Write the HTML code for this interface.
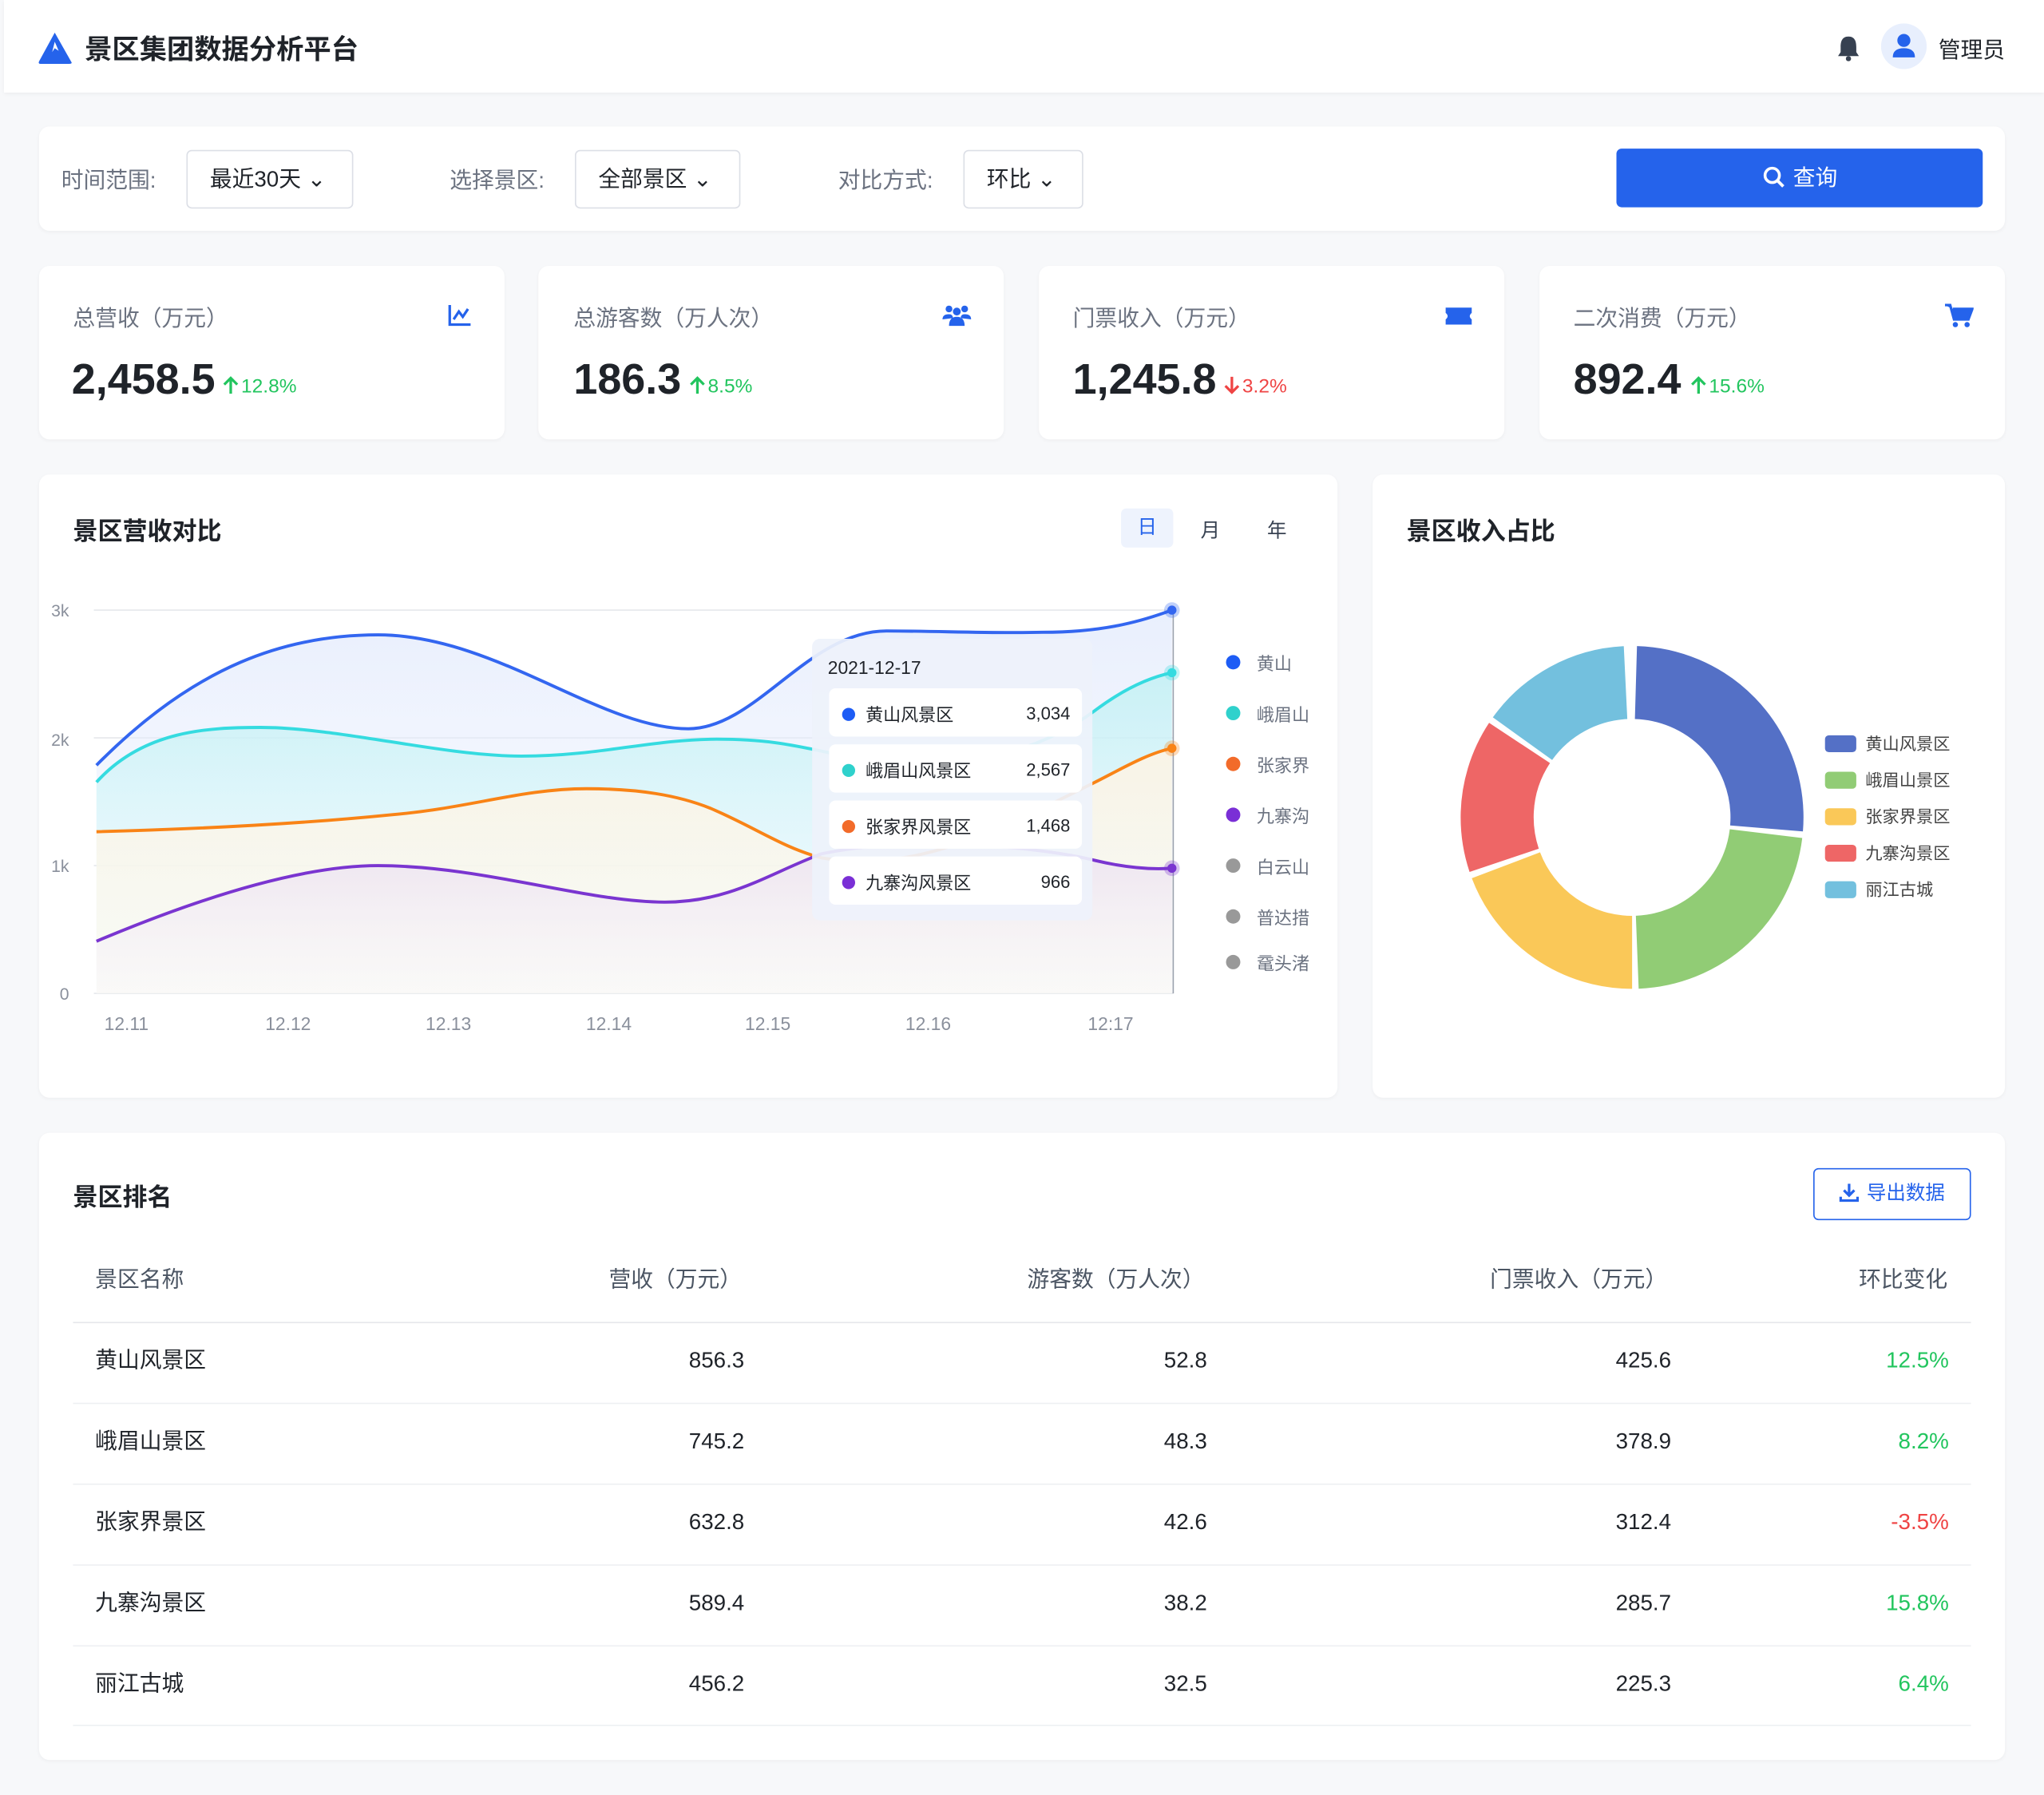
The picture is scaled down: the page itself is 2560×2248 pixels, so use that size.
<!DOCTYPE html>
<html><head><meta charset="utf-8"><style>
*{margin:0;padding:0;box-sizing:border-box}
html,body{width:2560px;height:2247px;overflow:hidden;background:#f7f8fa;font-family:"Liberation Sans","Noto Sans CJK SC",sans-serif;color:#1f2329}
#w{position:absolute;left:0;top:0;width:1568px;height:1377px;transform:scale(1.632653);transform-origin:0 0}
.a{position:absolute;white-space:nowrap}
.card{position:absolute;background:#fff;border-radius:8px;box-shadow:0 1px 3px rgba(0,0,0,.04)}
.dd{position:absolute;border:1px solid #dcdfe6;border-radius:4px;height:45px;top:115px;font-size:17px;line-height:43px;padding-left:17px;color:#1f2329}
.lab{position:absolute;top:124px;font-size:17px;color:#6b7280}
.kt{font-size:17px;color:#6b7280;top:230px}
.kv{font-size:33px;font-weight:bold;top:272px}
.kc{font-size:15px;top:288px}
.kc svg{vertical-align:-2px;margin-right:2px}
.g{color:#22c55e}.r{color:#ef4444}
.h2{font-size:19px;font-weight:bold}
.tr{font-size:17px}
.row{position:relative;height:62px}
.row span{line-height:20px;top:0}
</style></head><body><div id="w">
<div class="a" style="left:3px;top:0;width:1565px;height:71px;background:#fff;box-shadow:0 1px 3px rgba(0,0,0,.05)"></div>
<svg class="a" style="left:28px;top:23px" width="28" height="28" viewBox="0 0 28 28"><path d="M14 2 L27 25 Q27 26 25 26 L3 26 Q1 26 2 24 Z" fill="#2563eb"/><path d="M14 9 L17 16 L14 14 L12 17 Z" fill="#fff"/></svg>
<div class="a" style="left:65px;top:22px;font-size:21px;font-weight:bold">景区集团数据分析平台</div>
<svg class="a" style="left:1409px;top:27px" width="18" height="20" viewBox="0 0 18 20"><path d="M9 1 C4 1 3 5 3 9 L3 13 L1 16 L17 16 L15 13 L15 9 C15 5 14 1 9 1Z" fill="#374151"/><circle cx="9" cy="18" r="2" fill="#374151"/></svg>
<div class="a" style="left:1443px;top:18px;width:35px;height:35px;border-radius:50%;background:#e8effd"></div>
<svg class="a" style="left:1451px;top:25px" width="19" height="20" viewBox="0 0 19 20"><circle cx="9.5" cy="6" r="5" fill="#2563eb"/><path d="M1 19 Q1 12 9.5 12 Q18 12 18 19Z" fill="#2563eb"/></svg>
<div class="a" style="left:1487px;top:24px;font-size:17px">管理员</div>

<div class="card" style="left:30px;top:97px;width:1508px;height:80px"></div>
<div class="lab" style="left:47px">时间范围:</div>
<div class="dd" style="left:143px;width:128px">最近30天 ⌄</div>
<div class="lab" style="left:345px">选择景区:</div>
<div class="dd" style="left:441px;width:127px">全部景区 ⌄</div>
<div class="lab" style="left:643px">对比方式:</div>
<div class="dd" style="left:739px;width:92px">环比 ⌄</div>
<div class="a" style="left:1240px;top:114px;width:281px;height:45px;background:#2563eb;border-radius:4px;color:#fff;font-size:17px;line-height:45px;text-align:center">
<svg width="18" height="18" viewBox="0 0 18 18" style="vertical-align:-3px;margin-right:6px"><circle cx="7.5" cy="7.5" r="5.5" stroke="#fff" stroke-width="2.2" fill="none"/><path d="M11.5 11.5 L16 16" stroke="#fff" stroke-width="2.4"/></svg>查询</div>

<div class="card" style="left:30px;top:204px;width:357px;height:133px"></div>
<div class="card" style="left:413px;top:204px;width:357px;height:133px"></div>
<div class="card" style="left:797px;top:204px;width:357px;height:133px"></div>
<div class="card" style="left:1181px;top:204px;width:357px;height:133px"></div>
<div class="a kt" style="left:56px">总营收（万元）</div>
<div class="a kt" style="left:440px">总游客数（万人次）</div>
<div class="a kt" style="left:823px">门票收入（万元）</div>
<div class="a kt" style="left:1207px">二次消费（万元）</div>
<div class="a kv" style="left:55px">2,458.5</div><div class="a kc g" style="left:171px"><svg width="12" height="15"><path d="M6 14 V2 M1 7 L6 2 L11 7" stroke="#22c55e" stroke-width="2" fill="none"/></svg>12.8%</div>
<div class="a kv" style="left:440px">186.3</div><div class="a kc g" style="left:529px"><svg width="12" height="15"><path d="M6 14 V2 M1 7 L6 2 L11 7" stroke="#22c55e" stroke-width="2" fill="none"/></svg>8.5%</div>
<div class="a kv" style="left:823px">1,245.8</div><div class="a kc r" style="left:939px"><svg width="12" height="15"><path d="M6 1 V13 M1 8 L6 13 L11 8" stroke="#ef4444" stroke-width="2" fill="none"/></svg>3.2%</div>
<div class="a kv" style="left:1207px">892.4</div><div class="a kc g" style="left:1297px"><svg width="12" height="15"><path d="M6 14 V2 M1 7 L6 2 L11 7" stroke="#22c55e" stroke-width="2" fill="none"/></svg>15.6%</div>
<svg class="a" style="left:343px;top:233px" width="19" height="18"><path d="M2 1 V16 H18" stroke="#2563eb" stroke-width="2" fill="none"/><path d="M5 12 L9 6 L12 10 L16 4" stroke="#2563eb" stroke-width="2" fill="none"/></svg>
<svg class="a" style="left:723px;top:233px" width="22" height="18"><circle cx="5" cy="4" r="2.6" fill="#2563eb"/><circle cx="17" cy="4" r="2.6" fill="#2563eb"/><circle cx="11" cy="6" r="3" fill="#2563eb"/><path d="M0 12 Q0 8 5 8 Q8 8 8 11Z M22 12 Q22 8 17 8 Q14 8 14 11Z M5 17 Q5 10 11 10 Q17 10 17 17Z" fill="#2563eb"/></svg>
<svg class="a" style="left:1108px;top:235px" width="22" height="15"><path d="M1 1 H21 V5 Q18 7.5 21 10 V14 H1 V10 Q4 7.5 1 5Z" fill="#2563eb"/></svg>
<svg class="a" style="left:1492px;top:233px" width="22" height="19"><path d="M0 1 H4 L7 12 H18 L21 4 H6" stroke="#2563eb" stroke-width="2" fill="#2563eb"/><circle cx="8" cy="16" r="2" fill="#2563eb"/><circle cx="17" cy="16" r="2" fill="#2563eb"/></svg>

<div class="card" style="left:30px;top:364px;width:996px;height:478px"></div>
<div class="a h2" style="left:56px;top:393px">景区营收对比</div>
<div class="a" style="left:860px;top:390px;width:40px;height:30px;background:#eef3fd;border-radius:4px;color:#2563eb;font-size:15px;text-align:center;line-height:30px">日</div>
<div class="a" style="left:921px;top:396px;font-size:15px;color:#374151">月</div>
<div class="a" style="left:972px;top:396px;font-size:15px;color:#374151">年</div>
<svg class="a" style="left:0;top:0" width="1040" height="840">
<defs>
<linearGradient id="gb" x1="0" y1="0" x2="0" y2="1"><stop offset="0" stop-color="#dfe8fc" stop-opacity=".7"/><stop offset="1" stop-color="#eef2fd" stop-opacity=".2"/></linearGradient>
<linearGradient id="gc" x1="0" y1="0" x2="0" y2="1"><stop offset="0" stop-color="#b9f0f2" stop-opacity=".7"/><stop offset="1" stop-color="#e8fbff" stop-opacity=".3"/></linearGradient>
<linearGradient id="go" x1="0" y1="0" x2="0" y2="1"><stop offset="0" stop-color="#fdf3e4" stop-opacity=".9"/><stop offset="1" stop-color="#fffbee" stop-opacity=".5"/></linearGradient>
<linearGradient id="gp" x1="0" y1="0" x2="0" y2="1"><stop offset="0" stop-color="#ede4f0" stop-opacity="1"/><stop offset="1" stop-color="#f8f4fb" stop-opacity=".3"/></linearGradient>
</defs>
<g stroke="#e5e7eb" stroke-width="1"><path d="M72 468 H900 M72 566 H900 M72 664 H900 M72 762 H900"/></g>
<g font-size="13" fill="#8a909c" text-anchor="end"><text x="53" y="473">3k</text><text x="53" y="572">2k</text><text x="53" y="669">1k</text><text x="53" y="767">0</text></g>
<g font-size="14" fill="#8a909c" text-anchor="middle"><text x="97" y="790">12.11</text><text x="221" y="790">12.12</text><text x="344" y="790">12.13</text><text x="467" y="790">12.14</text><text x="589" y="790">12.15</text><text x="712" y="790">12.16</text><text x="852" y="790">12:17</text></g>
<path d="M74 587 C150 510 220 487 290 487 C380 487 460 559 528 559 C580 559 620 484 680 484 C720 484 760 486 800 485 C850 485 880 475 899 468 L899 762 L74 762Z" fill="url(#gb)"/>
<path d="M74 600 C110 560 160 558 200 558 C260 558 340 580 400 580 C460 580 500 567 550 567 C600 567 620 575 650 580 C760 600 820 560 840 545 C860 530 880 520 899 516 L899 762 L74 762Z" fill="url(#gc)"/>
<path d="M74 638 C150 636 230 632 300 625 C360 620 400 605 450 605 C490 605 520 610 545 620 C580 635 600 650 630 658 C700 670 760 640 840 600 C860 590 880 578 899 574 L899 762 L74 762Z" fill="url(#go)"/>
<path d="M74 722 C150 690 230 664 290 664 C370 664 450 692 510 692 C560 692 590 670 630 655 C700 640 800 650 840 660 C865 666 885 667 899 666 L899 762 L74 762Z" fill="url(#gp)"/>
<g fill="none" stroke-width="2.4">
<path d="M74 587 C150 510 220 487 290 487 C380 487 460 559 528 559 C580 559 620 484 680 484 C720 484 760 486 800 485 C850 485 880 475 899 468" stroke="#3366f0"/>
<path d="M74 600 C110 560 160 558 200 558 C260 558 340 580 400 580 C460 580 500 567 550 567 C600 567 620 575 650 580 C760 600 820 560 840 545 C860 530 880 520 899 516" stroke="#35dbe0"/>
<path d="M74 638 C150 636 230 632 300 625 C360 620 400 605 450 605 C490 605 520 610 545 620 C580 635 600 650 630 658 C700 670 760 640 840 600 C860 590 880 578 899 574" stroke="#f98316"/>
<path d="M74 722 C150 690 230 664 290 664 C370 664 450 692 510 692 C560 692 590 670 630 655 C700 640 800 650 840 660 C865 666 885 667 899 666" stroke="#7a35d0"/>
</g>
<path d="M900 468 V762" stroke="#9aa1ad" stroke-width="1"/>
<circle cx="899" cy="468" r="6" fill="#3366f0" fill-opacity=".3"/><circle cx="899" cy="468" r="3.5" fill="#3366f0"/>
<circle cx="899" cy="516" r="6" fill="#35dbe0" fill-opacity=".3"/><circle cx="899" cy="516" r="3.5" fill="#35dbe0"/>
<circle cx="899" cy="574" r="6" fill="#f98316" fill-opacity=".3"/><circle cx="899" cy="574" r="3.5" fill="#f98316"/>
<circle cx="899" cy="666" r="6" fill="#7a35d0" fill-opacity=".3"/><circle cx="899" cy="666" r="3.5" fill="#7a35d0"/>
<rect x="623" y="490" width="215" height="216" rx="6" fill="#eef2fb" fill-opacity=".93"/>
<text x="635" y="517" font-size="14" fill="#1f2329">2021-12-17</text>
<g font-size="13.5" fill="#1f2329">
<rect x="636" y="528" width="194" height="37" rx="5" fill="#fff"/><circle cx="651" cy="548" r="5" fill="#1d5cf5"/><text x="664" y="553">黄山风景区</text><text x="821" y="552" text-anchor="end">3,034</text>
<rect x="636" y="571" width="194" height="37" rx="5" fill="#fff"/><circle cx="651" cy="591" r="5" fill="#2fd1cc"/><text x="664" y="596">峨眉山风景区</text><text x="821" y="595" text-anchor="end">2,567</text>
<rect x="636" y="614" width="194" height="37" rx="5" fill="#fff"/><circle cx="651" cy="634" r="5" fill="#f26b2a"/><text x="664" y="639">张家界风景区</text><text x="821" y="638" text-anchor="end">1,468</text>
<rect x="636" y="657" width="194" height="37" rx="5" fill="#fff"/><circle cx="651" cy="677" r="5" fill="#7a2fd6"/><text x="664" y="682">九寨沟风景区</text><text x="821" y="681" text-anchor="end">966</text>
</g>
<g font-size="13.5" fill="#6b7280">
<circle cx="946" cy="508" r="5.5" fill="#1d5cf5"/><text x="964" y="514">黄山</text>
<circle cx="946" cy="547" r="5.5" fill="#2fd1cc"/><text x="964" y="553">峨眉山</text>
<circle cx="946" cy="586" r="5.5" fill="#f26b2a"/><text x="964" y="592">张家界</text>
<circle cx="946" cy="625" r="5.5" fill="#7a2fd6"/><text x="964" y="631">九寨沟</text>
<circle cx="946" cy="664" r="5.5" fill="#999"/><text x="964" y="670">白云山</text>
<circle cx="946" cy="703" r="5.5" fill="#999"/><text x="964" y="709">普达措</text>
<circle cx="946" cy="738" r="5.5" fill="#999"/><text x="964" y="744">鼋头渚</text>
</g>
</svg>

<div class="card" style="left:1053px;top:364px;width:485px;height:478px"></div>
<div class="a h2" style="left:1079px;top:393px">景区收入占比</div>
<svg class="a" style="left:1100px;top:480px" width="420" height="300">
<g transform="translate(152,147) rotate(-90)" fill="none" stroke-width="56">
<circle r="103.5" stroke="#5470c6" stroke-dasharray="168 482.3" stroke-dashoffset="-3"/>
<circle r="103.5" stroke="#91cc75" stroke-dasharray="146 504.3" stroke-dashoffset="-175"/>
<circle r="103.5" stroke="#fac858" stroke-dasharray="125 525.3" stroke-dashoffset="-325"/>
<circle r="103.5" stroke="#ee6666" stroke-dasharray="94 556.3" stroke-dashoffset="-454"/>
<circle r="103.5" stroke="#73c0de" stroke-dasharray="93 557.3" stroke-dashoffset="-552"/>
</g>
<g font-size="13" fill="#444">
<rect x="300" y="84" width="24" height="13" rx="3" fill="#5470c6"/><text x="331" y="95">黄山风景区</text>
<rect x="300" y="112" width="24" height="13" rx="3" fill="#91cc75"/><text x="331" y="123">峨眉山景区</text>
<rect x="300" y="140" width="24" height="13" rx="3" fill="#fac858"/><text x="331" y="151">张家界景区</text>
<rect x="300" y="168" width="24" height="13" rx="3" fill="#ee6666"/><text x="331" y="179">九寨沟景区</text>
<rect x="300" y="196" width="24" height="13" rx="3" fill="#73c0de"/><text x="331" y="207">丽江古城</text>
</g>
</svg>

<div class="card" style="left:30px;top:869px;width:1508px;height:481px"></div>
<div class="a h2" style="left:56px;top:904px">景区排名</div>
<div class="a" style="left:1391px;top:896px;width:121px;height:40px;border:1px solid #2563eb;border-radius:4px;color:#2563eb;font-size:15px;line-height:38px;text-align:center">
<svg width="15" height="15" viewBox="0 0 15 15" style="vertical-align:-2px;margin-right:6px"><path d="M7.5 1 V10 M3.5 6 L7.5 10 L11.5 6 M1 11 V14 H14 V11" stroke="#2563eb" stroke-width="2" fill="none"/></svg>导出数据</div>
<div class="a tr" style="left:73px;top:972px;color:#4b5563;line-height:20px">景区名称</div>
<div class="a tr" style="left:467px;top:972px;color:#4b5563;line-height:20px">营收（万元）</div>
<div class="a tr" style="left:788px;top:972px;color:#4b5563;line-height:20px">游客数（万人次）</div>
<div class="a tr" style="left:1143px;top:972px;color:#4b5563;line-height:20px">门票收入（万元）</div>
<div class="a tr" style="left:1426px;top:972px;color:#4b5563;line-height:20px">环比变化</div>
<div class="a" style="left:56px;top:1014px;width:1456px;height:1px;background:#e5e7eb"></div>
<div class="a" style="left:56px;top:1076px;width:1456px;height:1px;background:#eef0f3"></div>
<div class="a" style="left:56px;top:1138px;width:1456px;height:1px;background:#eef0f3"></div>
<div class="a" style="left:56px;top:1200px;width:1456px;height:1px;background:#eef0f3"></div>
<div class="a" style="left:56px;top:1262px;width:1456px;height:1px;background:#eef0f3"></div>
<div class="a" style="left:56px;top:1323px;width:1456px;height:1px;background:#eef0f3"></div>
<div style="position:absolute;left:0;top:1034px;width:1568px;font-size:17px">
<div class="row"><span class="a" style="left:73px">黄山风景区</span><span class="a" style="right:997px">856.3</span><span class="a" style="right:642px">52.8</span><span class="a" style="right:286px">425.6</span><span class="a g" style="right:73px">12.5%</span></div>
<div class="row"><span class="a" style="left:73px">峨眉山景区</span><span class="a" style="right:997px">745.2</span><span class="a" style="right:642px">48.3</span><span class="a" style="right:286px">378.9</span><span class="a g" style="right:73px">8.2%</span></div>
<div class="row"><span class="a" style="left:73px">张家界景区</span><span class="a" style="right:997px">632.8</span><span class="a" style="right:642px">42.6</span><span class="a" style="right:286px">312.4</span><span class="a r" style="right:73px">-3.5%</span></div>
<div class="row"><span class="a" style="left:73px">九寨沟景区</span><span class="a" style="right:997px">589.4</span><span class="a" style="right:642px">38.2</span><span class="a" style="right:286px">285.7</span><span class="a g" style="right:73px">15.8%</span></div>
<div class="row"><span class="a" style="left:73px">丽江古城</span><span class="a" style="right:997px">456.2</span><span class="a" style="right:642px">32.5</span><span class="a" style="right:286px">225.3</span><span class="a g" style="right:73px">6.4%</span></div>
</div>
</div></body></html>
